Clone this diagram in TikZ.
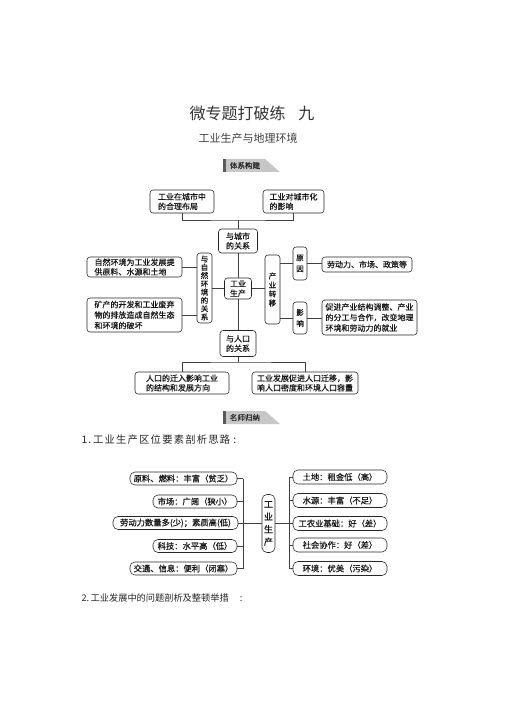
\documentclass[tikz,border=0pt]{standalone}
\usepackage{fontspec}
\newfontfamily\cjk{Noto Sans CJK SC}
\newfontfamily\cjkb[FakeBold=0.6]{Noto Sans CJK SC}
\newfontfamily\cjkls[LetterSpace=12]{Noto Sans CJK SC}
\begin{document}
\begin{tikzpicture}[x=1pt,y=-1pt,
  bx/.style={draw=black!85, line width=0.55pt, rounded corners=3pt, inner sep=0.5pt,
    font=\cjkb\fontsize{8}{9.6}\selectfont, align=center, text=black!90},
  vt/.style={font=\cjkb\fontsize{7.5}{8.3}\selectfont},
  bx2/.style={draw=black!85, line width=0.55pt, rounded corners=5pt, inner sep=1pt,
    font=\cjkb\fontsize{8.3}{10}\selectfont, align=center, text=black!90},
  ln/.style={draw=black!75, line width=0.5pt},
  bannertext/.style={font=\cjkb\fontsize{7.5}{8}\selectfont, text=black!85},
  bodytext/.style={anchor=west, text=black!85}]
\useasboundingbox (0,0) rectangle (505,714);
\fill[white] (0,0) rectangle (505,714);

% title
\node[font=\cjk\fontsize{16}{18}\selectfont, text=black!80] (title) at (252,113) {微专题打破练\hspace{0.8em}九};
\node[font=\cjk\fontsize{11}{12}\selectfont, text=black!75] (sub) at (248,138) {工业生产与地理环境};

% banner 1
\fill[black!22] (226,159) -- (265,159) -- (280,172) -- (226,172) -- cycle;
\fill[black!65] (223,159) rectangle (226,172);
\node[bannertext] (ban1) at (245,165.5) {体系构建};

% diagram 1
\node[bx, align=left, minimum width=64pt, minimum height=23pt] (A) at (182,201.5) {工业在城市中\\的合理布局};
\node[bx, align=left, minimum width=61pt, minimum height=23pt] (B) at (293.5,201.5) {工业对城市化\\的影响};
\node[bx, minimum width=39pt, minimum height=24pt] (C) at (238,241) {与城市\\的关系};
\node[bx, vt, minimum width=15pt, minimum height=70pt] (D) at (204.5,288) {与\\自\\然\\环\\境\\的\\关\\系};
\node[bx, minimum width=27pt, minimum height=21pt] (E) at (238,288.5) {工业\\生产};
\node[bx, font=\cjkb\fontsize{7.5}{9}\selectfont, minimum width=15pt, minimum height=69pt] (F) at (272.5,289.5) {产\\业\\转\\移};
\node[bx, font=\cjkb\fontsize{7.5}{11}\selectfont, minimum width=14pt, minimum height=33pt] (G) at (300,263.5) {原\\因};
\node[bx, font=\cjkb\fontsize{7.5}{11}\selectfont, minimum width=14pt, minimum height=32pt] (H) at (300,318) {影\\响};
\node[bx, minimum width=90pt, minimum height=15pt] (I) at (367,264.5) {劳动力、市场、政策等};
\node[bx, align=left, font=\cjkb\fontsize{8}{10.5}\selectfont, minimum width=95pt, minimum height=35pt] (J) at (369.5,317.5) {促进产业结构调整、产业\\的分工与合作，改变地理\\环境和劳动力的就业};
\node[bx, align=left, minimum width=95pt, minimum height=20pt] (K) at (134.5,267) {自然环境为工业发展提\\供原料、水源和土地};
\node[bx, align=left, font=\cjkb\fontsize{8}{10.5}\selectfont, minimum width=95pt, minimum height=34pt] (L) at (134.5,315) {矿产的开发和工业废弃\\物的排放造成自然生态\\和环境的破坏};
\node[bx, minimum width=36pt, minimum height=26pt] (M) at (238,343.5) {与人口\\的关系};
\node[bx, align=left, minimum width=94pt, minimum height=22pt] (N) at (182,383) {人口的迁入影响工业\\的结构和发展方向};
\node[bx, align=left, minimum width=106pt, minimum height=22pt] (O) at (305,383) {工业发展促进人口迁移，影\\响人口密度和环境人口容量};

\coordinate (jt) at (238,220);
\draw[ln] (A.south) |- (jt) -| (B.south);
\draw[ln] (jt) -- (C.north);
\draw[ln] (C.south) -- (E.north);
\draw[ln] (D.east |- E.west) -- (E.west);
\draw[ln] (E.east) -- (E.east -| F.west);
\draw[ln] (K.east) -- (K.east -| D.west);
\draw[ln] (L.east) -- (L.east -| D.west);
\draw[ln] (G.west -| F.east) -- (G.west);
\draw[ln] (H.west -| F.east) -- (H.west);
\draw[ln] (G.east) -- (G.east -| I.west);
\draw[ln] (H.east) -- (H.east -| J.west);
\draw[ln] (E.south) -- (M.north);
\coordinate (jb) at (238,362);
\draw[ln] (M.south) -- (jb);
\draw[ln] (N.north) |- (jb) -| (O.north);

% banner 2
\fill[black!22] (226,411) -- (265,411) -- (280,424) -- (226,424) -- cycle;
\fill[black!65] (223,411) rectangle (226,424);
\node[bannertext] (ban2) at (245,417.5) {名师归纳};

\node[bodytext, font=\cjkls\fontsize{10.3}{12}\selectfont] (t1) at (78,440) {1.\,工业生产区位要素剖析思路\hspace{0.3em}:};

% diagram 2
\node[bx2, minimum width=107pt, minimum height=13pt] (L1) at (183.5,478.5) {原料、燃料：丰富（贫乏）};
\node[bx2, minimum width=84pt, minimum height=13pt] (L2) at (195,501.5) {市场：广阔（狭小）};
\node[bx2, minimum width=125pt, minimum height=13pt] (L3) at (175.5,523) {劳动力数量多(少)；素质高(低)};
\node[bx2, minimum width=84pt, minimum height=13pt] (L4) at (195,546) {科技：水平高（低）};
\node[bx2, minimum width=107pt, minimum height=13pt] (L5) at (183.5,568.5) {交通、信息：便利（闭塞）};
\node[bx2, font=\cjkb\fontsize{9}{12.5}\selectfont, inner sep=0.5pt, minimum width=13pt, minimum height=58pt] (P) at (268.5,523.5) {工\\业\\生\\产};
\node[bx2, minimum width=94pt, minimum height=14pt] (R1) at (340,477) {土地：租金低（高）};
\node[bx2, minimum width=94pt, minimum height=14pt] (R2) at (340,500.5) {水源：丰富（不足）};
\node[bx2, minimum width=94pt, minimum height=14pt] (R3) at (340,523.5) {工农业基础：好（差）};
\node[bx2, minimum width=94pt, minimum height=14pt] (R4) at (340,545) {社会协作：好（差）};
\node[bx2, minimum width=94pt, minimum height=14pt] (R5) at (340,568.5) {环境：优美（污染）};

\coordinate (lx) at (243,523);
\coordinate (rx) at (289,523.5);
\draw[ln] (L1.east) -- (L1.east -| lx);
\draw[ln] (L2.east) -- (L2.east -| lx);
\draw[ln] (L4.east) -- (L4.east -| lx);
\draw[ln] (L5.east) -- (L5.east -| lx);
\draw[ln] (L1.east -| lx) -- (L5.east -| lx);
\draw[ln] (L3.east) -- (L3.east -| P.west);
\draw[ln] (R1.west) -- (R1.west -| rx);
\draw[ln] (R2.west) -- (R2.west -| rx);
\draw[ln] (R4.west) -- (R4.west -| rx);
\draw[ln] (R5.west) -- (R5.west -| rx);
\draw[ln] (R1.west -| rx) -- (R5.west -| rx);
\draw[ln] (P.east |- R3.west) -- (R3.west);

\node[bodytext, font=\cjk\fontsize{9.2}{12}\selectfont] (t2) at (78,598) {2.\,工业发展中的问题剖析及整顿举措\hspace{1.2em}:};
\end{tikzpicture}
\end{document}
